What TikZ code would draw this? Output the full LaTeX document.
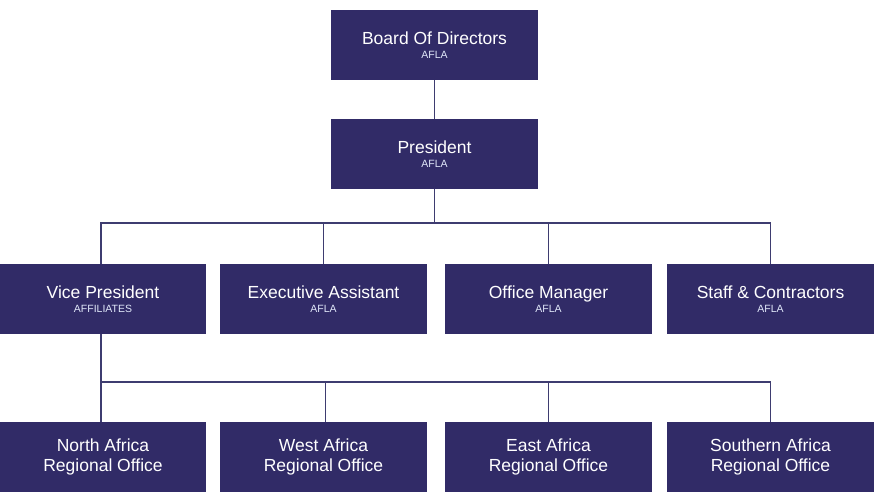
\documentclass[tikz,border=0pt]{standalone}
\usepackage{fontspec}
\setmainfont{Liberation Sans}
\definecolor{boxfill}{RGB}{49,43,103}
\definecolor{linecol}{RGB}{62,60,112}
\definecolor{subcol}{RGB}{225,232,250}
\begin{document}
\begin{tikzpicture}[x=1pt,y=-1pt,
  orgbox/.style={rectangle,fill=boxfill,text=white,align=center,inner sep=0pt,
    minimum width=207pt,minimum height=70pt,font=\fontsize{17.5}{20}\selectfont},
  conn/.style={draw=linecol,line width=1.8pt}]
\useasboundingbox (0,0) rectangle (874,493);
\newcommand{\sub}[1]{\fontsize{10.5}{13}\selectfont\color{subcol}#1}
\node[orgbox] (board) at (434.5,45) {Board Of Directors\\[-6pt]\sub{AFLA}};
\node[orgbox] (pres) at (434.5,154) {President\\[-6pt]\sub{AFLA}};
\node[orgbox,minimum width=206pt] (vp) at (103,299) {Vice President\\[-6pt]\sub{AFFILIATES}};
\node[orgbox] (ea) at (323.5,299) {Executive Assistant\\[-6pt]\sub{AFLA}};
\node[orgbox] (om) at (548.5,299) {Office Manager\\[-6pt]\sub{AFLA}};
\node[orgbox] (sc) at (770.5,299) {Staff \& Contractors\\[-6pt]\sub{AFLA}};
\node[orgbox,minimum width=206pt] (na) at (103,457) {North Africa\\Regional Office};
\node[orgbox] (wa) at (323.5,457) {West Africa\\Regional Office};
\node[orgbox] (eaf) at (548.5,457) {East Africa\\Regional Office};
\node[orgbox] (sa) at (770.5,457) {Southern Africa\\Regional Office};
\coordinate (bus1) at (434.5,223);
\coordinate (bus2) at (101,382);
\draw[conn] (board) -- (pres);
\draw[conn] (pres) -- (bus1);
\draw[conn] (bus1) -| ([xshift=-2pt]vp.north);
\draw[conn] (bus1) -| (ea);
\draw[conn] (bus1) -| (om);
\draw[conn] (bus1) -| (sc);
\draw[conn] ([xshift=-2pt]vp.south) -- (bus2);
\draw[conn] (bus2) -- ([xshift=-2pt]na.north);
\draw[conn] (bus2) -| ([xshift=2pt]wa.north);
\draw[conn] (bus2) -| (eaf);
\draw[conn] (bus2) -| (sa);
\end{tikzpicture}
\end{document}
